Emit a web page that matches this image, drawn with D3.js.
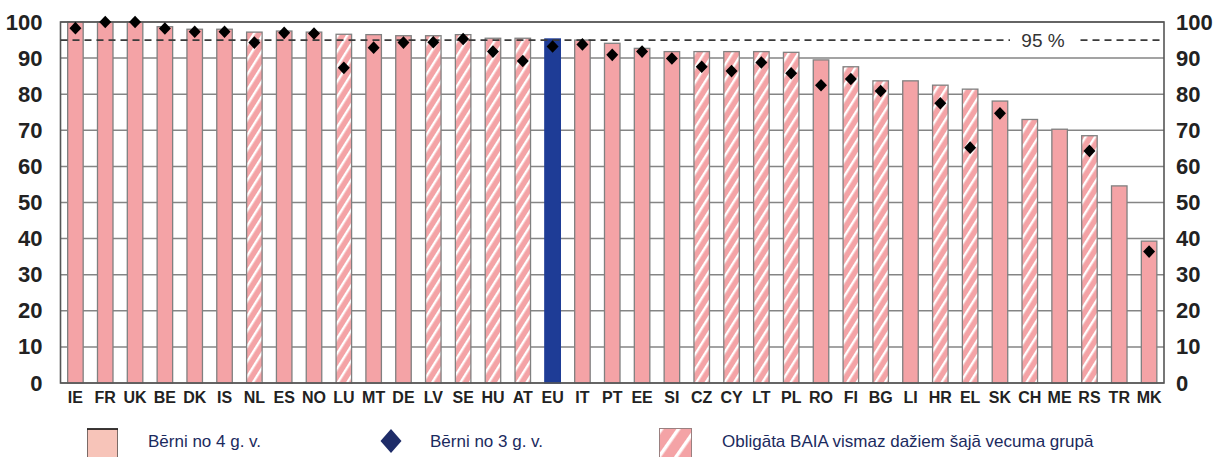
<!DOCTYPE html>
<html><head><meta charset="utf-8">
<script src="https://cdn.jsdelivr.net/npm/d3@7"></script>
<style>body{margin:0;background:#fff}svg{display:block}</style>
</head><body>
<svg id="c" width="1217" height="457"></svg>
<script>
const categories = ["IE","FR","UK","BE","DK","IS","NL","ES","NO","LU","MT","DE","LV","SE","HU","AT","EU","IT","PT","EE","SI","CZ","CY","LT","PL","RO","FI","BG","LI","HR","EL","SK","CH","ME","RS","TR","MK"];
const age4 = [100,100,100,98.7,98,98,97.2,97.5,97.2,96.6,96.5,96.2,96.2,96.5,95.5,95.5,95.3,95,94.1,92.7,91.8,91.8,91.8,91.8,91.6,89.5,87.6,83.7,83.7,82.5,81.4,78.1,73,70.3,68.5,54.6,39.3];
const age3 = [98.3,100,100,98.2,97.3,97.3,94.3,97,96.8,87.3,92.9,94.3,94.4,95.3,91.8,89.2,93.2,93.8,90.9,91.8,89.9,87.6,86.4,88.8,85.8,82.5,84.2,80.9,null,77.5,65.2,74.7,null,null,64.3,null,36.4];
const compulsory = ["NL","LU","LV","SE","HU","AT","CZ","CY","LT","PL","FI","BG","HR","EL","CH","RS"];
const yTicks = [0,10,20,30,40,50,60,70,80,90,100];
const target = 95;
const legendLabels = ["Bērni no 4 g. v.","Bērni no 3 g. v.","Obligāta BAIA vismaz dažiem šajā vecuma grupā"];

const svg = d3.select("#c");
const L = 60.5, R = 1164, T = 22, B = 383;
const x = d3.scaleBand().domain(categories).range([L, R]).paddingInner(0.48).paddingOuter(0.24);
const y = d3.scaleLinear().domain([0,100]).range([B, T]);

const defs = svg.append("defs");
const pat = defs.append("pattern").attr("id","hatch").attr("patternUnits","userSpaceOnUse")
  .attr("width",8).attr("height",8).attr("patternTransform","rotate(32)");
pat.append("rect").attr("width",8).attr("height",8).attr("fill","#f4a3a6");
pat.append("rect").attr("x",0).attr("width",2.4).attr("height",8).attr("fill","#ffffff");

// grid
svg.append("g").selectAll("line").data(yTicks).join("line")
  .attr("x1",L).attr("x2",R).attr("y1",d=>y(d)).attr("y2",d=>y(d))
  .attr("stroke","#858585").attr("stroke-width",1.5);

// bars
svg.append("g").selectAll("rect").data(categories).join("rect")
  .attr("x",d=>x(d)).attr("width",x.bandwidth())
  .attr("y",(d,i)=>y(age4[i])).attr("height",(d,i)=>y(0)-y(age4[i]))
  .attr("fill",d=> d==="EU" ? "#1e3c96" : (compulsory.includes(d) ? "url(#hatch)" : "#f4a3a6"))
  .attr("stroke",d=> d==="EU" ? "#1e3c96" : "#808080").attr("stroke-width",1.3);

// frame
svg.append("rect").attr("x",L).attr("y",T).attr("width",R-L).attr("height",B-T)
  .attr("fill","none").attr("stroke","#555").attr("stroke-width",1.6);

// target line
svg.append("line").attr("x1",L).attr("x2",R).attr("y1",y(target)).attr("y2",y(target))
  .attr("stroke","#3a3a3a").attr("stroke-width",1.8).attr("stroke-dasharray","7,5");
svg.append("rect").attr("x",1010).attr("y",y(target)-11).attr("width",66).attr("height",21).attr("fill","#fff");
svg.append("text").attr("x",1043).attr("y",y(target)+7).attr("text-anchor","middle")
  .attr("font-family","Liberation Sans, Arial, sans-serif").attr("font-size",19).attr("fill","#333")
  .text(target + " %");

// diamonds
const dia = (s)=>`M0,${-s}L${s*0.95},0L0,${s}L${-s*0.95},0Z`;
svg.append("g").selectAll("path").data(categories.map((c,i)=>({c,v:age3[i]})).filter(d=>d.v!==null)).join("path")
  .attr("d",dia(6.3)).attr("transform",d=>`translate(${x(d.c)+x.bandwidth()/2},${y(d.v)})`)
  .attr("fill","#000");

// axes
const fontAxis = "Liberation Sans Narrow, Arial Narrow, Liberation Sans, sans-serif";
const yl = d3.axisLeft(y).tickValues(yTicks).tickSize(0).tickPadding(18);
const gL = svg.append("g").attr("transform",`translate(${L},0)`).call(yl);
const yr = d3.axisRight(y).tickValues(yTicks).tickSize(0).tickPadding(12);
const gR = svg.append("g").attr("transform",`translate(${R},0)`).call(yr);
[gL,gR].forEach(g=>{
  g.select(".domain").remove();
  g.selectAll("text").attr("font-family",fontAxis).attr("font-weight","bold").attr("font-size",22).attr("fill","#222");
});
const xa = d3.axisBottom(x).tickSize(0).tickPadding(9);
const gX = svg.append("g").attr("transform",`translate(0,${B})`).call(xa);
gX.select(".domain").remove();
gX.selectAll("text").attr("font-family",fontAxis).attr("font-weight","bold").attr("font-size",16).attr("fill","#222");

// legend
const lg = svg.append("g");
const lf = "Liberation Sans, Arial, sans-serif";
lg.append("rect").attr("x",87.5).attr("y",429).attr("width",30).attr("height",30).attr("fill","#f7c4b9").attr("stroke","#7a6a66").attr("stroke-width",1);
lg.append("line").attr("x1",87).attr("x2",118).attr("y1",429).attr("y2",429).attr("stroke","#111").attr("stroke-width",1.5);
lg.append("text").attr("x",148).attr("y",447).attr("font-family",lf).attr("font-size",17).attr("fill","#1b2a5e").text(legendLabels[0]);
lg.append("path").attr("d","M0,-12L10.5,0L0,12L-10.5,0Z").attr("transform","translate(391,441)").attr("fill","#1e2c68");
lg.append("text").attr("x",430).attr("y",447).attr("font-family",lf).attr("font-size",17).attr("fill","#1b2a5e").text(legendLabels[1]);
const pat2 = defs.append("pattern").attr("id","hatchL").attr("patternUnits","userSpaceOnUse")
  .attr("width",14).attr("height",14).attr("patternTransform","translate(660,428) rotate(35)");
pat2.append("rect").attr("width",14).attr("height",14).attr("fill","#f4a3a6");
pat2.append("rect").attr("width",3.5).attr("height",14).attr("fill","#fff");
lg.append("rect").attr("x",659.5).attr("y",428.5).attr("width",32).attr("height",30).attr("fill","url(#hatchL)").attr("stroke","#9a8080").attr("stroke-width",1);
lg.append("text").attr("x",722).attr("y",447).attr("font-family",lf).attr("font-size",17).attr("fill","#1b2a5e").text(legendLabels[2]);
</script>
</body></html>
